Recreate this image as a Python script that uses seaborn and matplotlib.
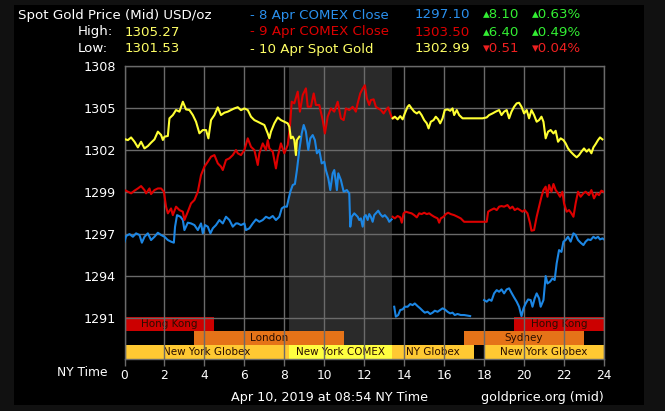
import matplotlib
matplotlib.use("Agg")
import matplotlib.pyplot as plt
from matplotlib.transforms import blended_transform_factory
from matplotlib.patches import Rectangle
import seaborn as sns
import pandas as pd

# ---------------- data ----------------
y_ticks = [1308 - k * 17 / 6 for k in range(7)]
y_tick_labels = ["1308", "1305", "1302", "1299", "1297", "1294", "1291"]
x_ticks = list(range(0, 25, 2))

# 8 Apr COMEX Close (blue)
blue_a_h = [0, 0.08, 0.25, 0.42, 0.58, 0.75, 0.87, 1.0, 1.17, 1.33, 1.5, 1.67, 1.83, 2.0, 2.17, 2.33, 2.47,
            2.53, 2.63, 2.8, 2.92, 3.0, 3.17, 3.33, 3.5, 3.67, 3.83, 3.92, 4.03, 4.17, 4.3, 4.42, 4.58, 4.75,
            4.92, 5.08, 5.25, 5.42, 5.58, 5.67, 5.83, 6.0, 6.08, 6.25, 6.42, 6.58, 6.75, 6.92, 7.08, 7.25,
            7.42, 7.58, 7.75, 7.87, 8.0, 8.13, 8.2, 8.3, 8.42, 8.53, 8.63, 8.75, 8.87, 8.97, 9.08, 9.2, 9.3,
            9.42, 9.53, 9.63, 9.75, 9.87, 10.0, 10.08, 10.2, 10.3, 10.42, 10.5, 10.63, 10.7, 10.83, 10.97,
            11.13, 11.25, 11.3, 11.37, 11.5, 11.67, 11.75, 11.83, 11.92, 12.0, 12.08, 12.17, 12.25, 12.33,
            12.42, 12.5, 12.58, 12.7, 12.8, 12.92, 13.03, 13.17, 13.25, 13.37]
blue_a_v = [1296.13, 1296.51, 1296.64, 1296.46, 1296.69, 1296.58, 1296.06, 1296.46, 1296.69, 1296.24, 1296.46,
            1296.73, 1296.58, 1296.46, 1296.24, 1296.13, 1296.06, 1297.14, 1297.92, 1297.81, 1297.59, 1296.91,
            1297.41, 1297.36, 1297.25, 1296.91, 1297.36, 1296.69, 1297.25, 1297.14, 1296.69, 1297.03, 1297.25,
            1297.59, 1297.36, 1297.81, 1297.59, 1297.14, 1297.36, 1297.36, 1297.25, 1297.36, 1296.91, 1297.03,
            1297.36, 1297.63, 1297.47, 1297.59, 1297.81, 1297.70, 1297.86, 1297.59, 1297.81, 1298.37, 1298.49,
            1298.49, 1298.94, 1299.50, 1299.95, 1300.02, 1300.96, 1302.31, 1303.43, 1304.00, 1303.55, 1302.31,
            1303.10, 1303.32, 1302.98, 1302.09, 1302.31, 1301.41, 1301.52, 1300.96, 1300.40, 1299.61, 1300.74,
            1300.96, 1299.61, 1300.74, 1300.29, 1299.50, 1299.61, 1299.39, 1297.14, 1297.81, 1298.04, 1297.81,
            1297.59, 1297.70, 1297.14, 1297.81, 1297.92, 1297.59, 1297.99, 1297.81, 1297.47, 1297.92, 1298.04,
            1298.22, 1297.99, 1297.81, 1297.92, 1297.70, 1297.47, 1297.63]
blue_b_h = [13.5, 13.58, 13.7, 13.8, 13.92, 14.03, 14.17, 14.3, 14.42, 14.53, 14.67, 14.8, 14.92, 15.03, 15.17,
            15.3, 15.42, 15.53, 15.67, 15.8, 15.92, 16.03, 16.17, 16.3, 16.42, 16.53, 16.67, 16.83, 17.0, 17.3]
blue_b_v = [1291.74, 1291.07, 1291.18, 1291.52, 1291.56, 1291.74, 1291.74, 1291.92, 1291.85, 1291.96, 1291.78,
            1291.63, 1291.47, 1291.34, 1291.40, 1291.25, 1291.34, 1291.47, 1291.40, 1291.52, 1291.63, 1291.56,
            1291.40, 1291.29, 1291.34, 1291.18, 1291.25, 1291.18, 1291.18, 1291.11]
blue_c_h = [18.0, 18.13, 18.25, 18.37, 18.5, 18.63, 18.75, 18.87, 19.0, 19.13, 19.25, 19.37, 19.5, 19.63, 19.75,
            19.87, 19.97, 20.08, 20.2, 20.33, 20.42, 20.53, 20.63, 20.75, 20.83, 20.97, 21.08, 21.17, 21.3, 21.42,
            21.53, 21.63, 21.75, 21.87, 21.97, 22.08, 22.2, 22.33, 22.47, 22.58, 22.7, 22.83, 22.97, 23.08, 23.2,
            23.33, 23.47, 23.58, 23.7, 23.8, 23.92, 24.0]
blue_c_v = [1292.19, 1292.08, 1292.23, 1292.14, 1292.64, 1292.86, 1292.75, 1292.91, 1292.64, 1292.91, 1292.98,
            1292.68, 1292.37, 1292.08, 1291.74, 1291.10, 1291.63, 1291.96, 1292.23, 1292.19, 1291.74, 1292.30,
            1292.64, 1292.30, 1291.74, 1292.19, 1293.81, 1293.31, 1293.43, 1293.65, 1293.54, 1294.66, 1295.56,
            1295.44, 1296.13, 1296.24, 1296.46, 1296.13, 1296.69, 1296.58, 1296.24, 1296.06, 1295.90, 1296.13,
            1296.28, 1296.24, 1296.46, 1296.35, 1296.46, 1296.28, 1296.35, 1296.28]

# 9 Apr COMEX Close (red)
red_a_h = [0, 0.17, 0.33, 0.5, 0.67, 0.83, 1.0, 1.08, 1.25, 1.33, 1.5, 1.67, 1.83, 1.97, 2.08, 2.17, 2.33, 2.42,
           2.58, 2.75, 2.92, 3.0, 3.17, 3.33, 3.5, 3.67, 3.83, 4.0, 4.17, 4.33, 4.5, 4.67, 4.83, 4.92, 5.08, 5.25,
           5.42, 5.58, 5.67, 5.83, 6.0, 6.17, 6.33, 6.5, 6.67, 6.75, 6.92, 7.08, 7.17, 7.25, 7.42, 7.58, 7.67,
           7.83, 8.0, 8.17, 8.28, 8.37, 8.5, 8.67, 8.78, 8.92, 9.08, 9.17, 9.33, 9.47, 9.58, 9.75, 9.92, 10.03,
           10.17, 10.33, 10.5, 10.67, 10.83, 10.97, 11.08, 11.25, 11.42, 11.58, 11.67, 11.8, 11.92, 12.03, 12.13,
           12.25, 12.33, 12.47, 12.58, 12.7, 12.83, 12.97, 13.08, 13.2, 13.3, 13.38, 13.47]
red_a_v = [1299.61, 1299.50, 1299.39, 1299.57, 1299.72, 1299.88, 1299.61, 1299.39, 1299.72, 1299.34, 1299.61,
           1299.72, 1299.72, 1299.50, 1298.49, 1298.04, 1298.37, 1297.92, 1298.49, 1298.26, 1298.15, 1297.59,
           1298.15, 1298.71, 1298.94, 1299.50, 1300.62, 1301.19, 1301.52, 1301.86, 1301.97, 1301.41, 1301.19,
           1300.96, 1301.64, 1301.75, 1301.97, 1302.31, 1302.09, 1301.97, 1302.31, 1303.10, 1302.53, 1302.31,
           1301.30, 1302.09, 1302.76, 1302.31, 1302.98, 1302.42, 1302.20, 1301.07, 1301.86, 1302.76, 1302.09,
           1302.65, 1303.88, 1305.57, 1305.46, 1306.25, 1304.90, 1306.02, 1306.47, 1305.23, 1305.23, 1306.13,
           1305.35, 1305.35, 1304.33, 1303.43, 1304.56, 1305.12, 1304.90, 1305.57, 1304.45, 1304.33, 1305.12,
           1305.01, 1305.23, 1304.90, 1305.46, 1306.13, 1306.45, 1306.68, 1305.80, 1305.35, 1305.68, 1305.73,
           1305.23, 1305.12, 1305.01, 1304.78, 1305.01, 1305.19, 1304.78, 1304.51, 1304.45]
red_b_h = [13.42, 13.53, 13.67, 13.8, 13.88, 13.97, 14.08, 14.25, 14.37, 14.5, 14.63, 14.75, 14.87, 15.0, 15.13,
           15.25, 15.37, 15.5, 15.67, 15.75, 15.83, 15.97, 16.08, 16.2, 16.33, 16.5, 16.67, 16.83, 17.0, 17.92,
           18.13, 18.2, 18.33, 18.5, 18.63, 18.75, 18.87, 19.0, 19.17, 19.3, 19.42, 19.53, 19.67, 19.8, 19.92,
           20.03, 20.17, 20.3, 20.37, 20.5, 20.63, 20.75, 20.87, 20.97, 21.08, 21.17, 21.25, 21.37, 21.47, 21.58,
           21.7, 21.8, 21.92, 22.0, 22.13, 22.25, 22.37, 22.47, 22.58, 22.7, 22.83, 22.97, 23.08, 23.25, 23.37,
           23.5, 23.63, 23.75, 23.87, 23.97]
red_b_v = [1297.81, 1297.70, 1297.86, 1297.77, 1297.41, 1298.04, 1298.15, 1298.08, 1298.04, 1297.92, 1297.77,
           1298.04, 1297.99, 1298.08, 1297.99, 1298.04, 1297.92, 1297.81, 1297.70, 1297.41, 1297.70, 1297.81,
           1297.99, 1298.08, 1297.99, 1297.92, 1297.81, 1297.70, 1297.47, 1297.47, 1297.47, 1298.15, 1298.26,
           1298.37, 1298.26, 1298.49, 1298.53, 1298.49, 1298.60, 1298.37, 1298.49, 1298.26, 1298.37, 1298.26,
           1298.15, 1298.26, 1298.04, 1297.36, 1296.87, 1296.91, 1297.81, 1298.49, 1299.16, 1299.61, 1299.84,
           1299.16, 1299.95, 1299.50, 1300.02, 1299.61, 1299.39, 1299.16, 1299.50, 1298.71, 1298.15, 1298.26,
           1298.04, 1297.81, 1298.71, 1299.50, 1299.16, 1299.39, 1299.50, 1299.27, 1299.61, 1299.05, 1299.39,
           1299.27, 1299.57, 1299.50]

# 10 Apr Spot Gold (yellow)
yel_a_h = [0, 0.17, 0.33, 0.5, 0.67, 0.83, 1.0, 1.17, 1.33, 1.5, 1.67, 1.83, 1.92, 2.0, 2.17, 2.25, 2.42, 2.58,
           2.75, 2.92, 3.08, 3.25, 3.42, 3.58, 3.75, 3.92, 4.08, 4.2, 4.33, 4.5, 4.67, 4.83, 5.0, 5.17, 5.33, 5.5,
           5.67, 5.83, 6.0, 6.17, 6.33, 6.5, 6.67, 6.83, 7.0, 7.17, 7.25, 7.33, 7.5, 7.67, 7.83, 8.0, 8.17, 8.25,
           8.33, 8.42, 8.5, 8.58, 8.63, 8.75]
yel_a_v = [1303.05, 1302.98, 1303.16, 1302.87, 1302.49, 1302.87, 1302.42, 1302.58, 1302.81, 1303.03, 1303.55,
           1303.33, 1302.99, 1303.21, 1303.26, 1304.45, 1304.67, 1305.01, 1304.90, 1305.57, 1305.05, 1305.01,
           1304.67, 1304.22, 1303.44, 1303.66, 1303.66, 1303.10, 1304.33, 1304.67, 1305.19, 1304.67, 1304.83,
           1304.90, 1305.01, 1305.12, 1305.20, 1305.00, 1305.12, 1305.01, 1304.56, 1304.33, 1304.22, 1304.11,
           1304.00, 1303.43, 1303.10, 1303.55, 1304.11, 1304.51, 1304.33, 1304.22, 1304.11, 1303.88, 1303.10,
           1303.21, 1302.98, 1301.97, 1302.98, 1303.21]
yel_b_h = [13.42, 13.53, 13.67, 13.8, 13.92, 14.03, 14.17, 14.25, 14.37, 14.5, 14.63, 14.75, 14.87, 15.0, 15.13,
           15.22, 15.33, 15.47, 15.58, 15.7, 15.8, 15.92, 16.03, 16.17, 16.3, 16.42, 16.5, 16.63, 16.75, 16.92,
           17.33, 17.92, 18.13, 18.25, 18.42, 18.58, 18.75, 18.87, 19.0, 19.13, 19.25, 19.37, 19.5, 19.63, 19.75,
           19.87, 20.0, 20.13, 20.25, 20.37, 20.5, 20.63, 20.75, 20.87, 20.97, 21.08, 21.2, 21.33, 21.47, 21.58,
           21.7, 21.83, 21.97, 22.08, 22.2, 22.33, 22.5, 22.63, 22.75, 22.87, 23.0, 23.13, 23.25, 23.37, 23.47,
           23.58, 23.7, 23.8, 23.92]
yel_b_v = [1304.45, 1304.56, 1304.38, 1304.60, 1304.38, 1304.78, 1305.23, 1305.35, 1305.12, 1304.90, 1304.78,
           1304.90, 1304.67, 1304.33, 1304.11, 1303.77, 1304.22, 1304.33, 1304.56, 1304.38, 1304.11, 1304.45,
           1305.01, 1305.05, 1304.96, 1305.12, 1304.67, 1305.01, 1304.67, 1304.45, 1304.45, 1304.45, 1304.51,
           1304.67, 1304.78, 1304.90, 1305.01, 1304.67, 1304.90, 1305.01, 1304.45, 1304.90, 1305.23, 1305.46,
           1305.50, 1305.23, 1304.78, 1305.01, 1304.45, 1305.01, 1304.67, 1304.22, 1304.33, 1304.56, 1304.22,
           1303.10, 1303.55, 1303.66, 1303.43, 1303.61, 1302.87, 1303.10, 1302.98, 1302.76, 1302.42, 1302.20,
           1301.97, 1301.82, 1301.97, 1302.20, 1302.42, 1302.20, 1302.36, 1302.09, 1302.49, 1302.71, 1302.98,
           1303.16, 1303.03]

# trading sessions: name, start hour, end hour, row (0 top)
session_names = ["Hong Kong", "London", "New York Globex", "New York COMEX", "NY Globex",
                 "Sydney", "New York Globex", "Hong Kong"]
session_start = [0, 3.5, 0, 8.25, 13.4, 17, 18, 19.5]
session_end = [4.5, 11, 8.25, 13.4, 17.5, 23, 24, 24]
session_row = [0, 1, 2, 2, 2, 1, 2, 0]
session_kind = ["hk", "mid", "globex", "comex", "globex", "mid", "globex", "hk"]
comex_start, comex_end = 8.22, 13.37

# ---------------- build frame ----------------
segments = [
    ("8 Apr", "b_a", blue_a_h, blue_a_v), ("8 Apr", "b_b", blue_b_h, blue_b_v),
    ("8 Apr", "b_c", blue_c_h, blue_c_v),
    ("9 Apr", "r_a", red_a_h, red_a_v), ("9 Apr", "r_b", red_b_h, red_b_v),
    ("10 Apr", "y_a", yel_a_h, yel_a_v), ("10 Apr", "y_b", yel_b_h, yel_b_v),
]
rows = []
for ser, seg, hh, vv in segments:
    assert len(hh) == len(vv), seg
    for h, v in zip(hh, vv):
        rows.append({"hour": h, "price": v, "series": ser, "segment": seg})
df = pd.DataFrame(rows)

BLUE, RED, YEL = "#1c86e3", "#dd0000", "#ffff33"
palette = {"8 Apr": BLUE, "9 Apr": RED, "10 Apr": YEL}

# ---------------- figure ----------------
W, H = 665, 411
fig = plt.figure(figsize=(W / 100, H / 100), dpi=100, facecolor="#111111")
fig.patches.append(Rectangle((14 / W, 1 - 405 / H), (644 - 14) / W, 400 / H,
                             transform=fig.transFigure, facecolor="black", edgecolor="none", zorder=-5))

ax_l, ax_r, ax_t, ax_b = 124.5, 604, 65.7, 359
ax = fig.add_axes([ax_l / W, 1 - ax_b / H, (ax_r - ax_l) / W, (ax_b - ax_t) / H])
ax.set_zorder(2)
ax.set_facecolor("black")

ybot = 1308 - (ax_b - ax_t) / 42 * (17 / 6)
ax.set_xlim(0, 24)
ax.set_ylim(ybot, 1308)

ax.axvspan(comex_start, comex_end, color="#2a2a2a", lw=0, zorder=0.8)

kind_colors = {"hk": "#cc0000", "mid": "#e57318", "globex": "#ffc932", "comex": "#ffff40"}
row_h = 14 / (ax_b - ax_t)
tr = blended_transform_factory(ax.transData, ax.transAxes)
for name, s, e, r, k in zip(session_names, session_start, session_end, session_row, session_kind):
    y1 = 3 * row_h - r * row_h
    y0 = y1 - row_h
    ax.axvspan(s, e, ymin=y0, ymax=y1, color=kind_colors[k], lw=0, zorder=1.5)
    ax.text((s + e) / 2, (y0 + y1) / 2, name, transform=tr, ha="center", va="center",
            fontsize=7.5, color="#2a0d00", zorder=1.6)

sns.lineplot(data=df, x="hour", y="price", hue="series", units="segment", estimator=None,
             sort=False, palette=palette, legend=False, lw=1.5, ax=ax, zorder=3)

ax.set_axisbelow(False)
ax.grid(True, color="#6a6a6a", lw=1.0)
ax.set_yticks(y_ticks)
ax.set_yticklabels(y_tick_labels)
ax.set_xticks(x_ticks)
ax.set_xticklabels([str(t) for t in x_ticks])
ax.tick_params(axis="y", length=0, pad=6, labelcolor="white", labelsize=9.2)
ax.tick_params(axis="x", length=5, width=1, color="#6a6a6a", pad=2, labelcolor="white", labelsize=8.8)
ax.set_xlabel("")
ax.set_ylabel("")
for sp in ax.spines.values():
    sp.set_color("#6a6a6a")
    sp.set_linewidth(1.0)

# ---------------- header ----------------
def ftext(x, y, s, color, size=9.6, **kw):
    fig.text(x / W, 1 - y / H, s, color=color, fontsize=size, va="center", ha="left", **kw)

GREEN, DRED = "#33ee33", "#ee2020"
ftext(18, 15, "Spot Gold Price (Mid) USD/oz", "white")
ftext(78, 32, "High:", "white")
ftext(125, 32, "1305.27", "#ffff66")
ftext(78, 49, "Low:", "white")
ftext(125, 49, "1301.53", "#ffff66")

ftext(250, 15, "- 8 Apr COMEX Close", "#2a90ee")
ftext(250, 32, "- 9 Apr COMEX Close", RED)
ftext(250, 49, "- 10 Apr Spot Gold", "#ffff66")
ftext(415, 15, "1297.10", "#2a90ee")
ftext(415, 32, "1303.50", RED)
ftext(415, 49, "1302.99", "#ffff66")
ftext(483, 15, "▴8.10", GREEN)
ftext(483, 32, "▴6.40", GREEN)
ftext(483, 49, "▾0.51", DRED)
ftext(532, 15, "▴0.63%", GREEN)
ftext(532, 32, "▴0.49%", GREEN)
ftext(532, 49, "▾0.04%", DRED)

# ---------------- footer ----------------
ftext(57, 372, "NY Time", "white", size=8.8)
ftext(231, 397, "Apr 10, 2019 at 08:54 NY Time", "white", size=9.2)
ftext(481, 397, "goldprice.org (mid)", "white", size=9.2)

fig.savefig("out.png", dpi=100, facecolor=fig.get_facecolor())
